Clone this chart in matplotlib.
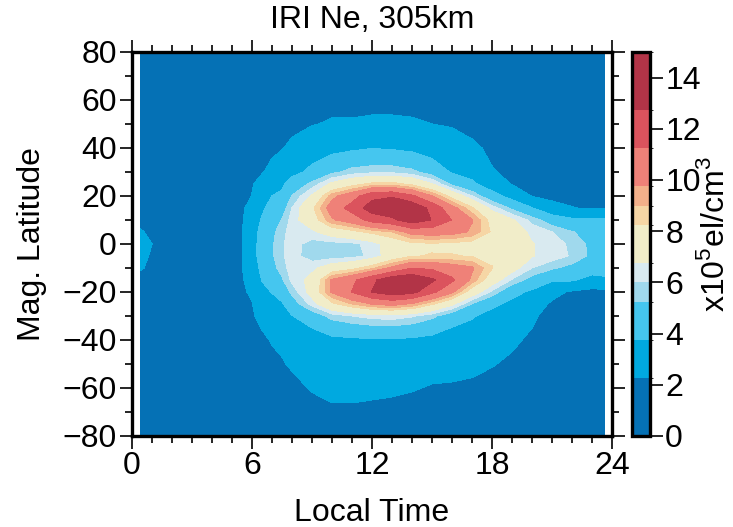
import numpy as np
import matplotlib
matplotlib.use('Agg')
import matplotlib.pyplot as plt
from matplotlib.colors import ListedColormap, BoundaryNorm

plt.rcParams['font.family'] = ['Liberation Sans', 'DejaVu Sans']
plt.rcParams['mathtext.fontset'] = 'custom'
plt.rcParams['mathtext.rm'] = 'Liberation Sans'

# local time of each column (hours)
lt = [0.45, 2, 4, 5, 5.5, 6, 6.5, 7, 7.5, 8, 9, 10, 11, 12,
      13, 14, 15, 16, 17, 18, 19, 20, 21, 22, 23, 23.6]
# magnetic latitude of each row (deg)
mlat = [80, 70, 60, 50, 40, 30, 25, 20, 15, 10, 5, 0,
        -5, -10, -15, -20, -25, -30, -40, -50, -60, -70, -80]

# Ne (x10^5 el/cm^3), one list per local time, lat 80 -> -80
ne_cols = [
    [1.2, 1.3, 1.4, 1.5, 1.6, 1.7, 1.8, 1.9, 2.0, 2.1, 2.3, 2.5, 2.4, 2.3, 2.1, 1.9, 1.8, 1.7, 1.6, 1.5, 1.4, 1.3, 1.2],
    [1.1, 1.2, 1.3, 1.4, 1.5, 1.6, 1.6, 1.7, 1.7, 1.8, 1.8, 1.8, 1.8, 1.8, 1.7, 1.7, 1.6, 1.6, 1.5, 1.4, 1.3, 1.2, 1.1],
    [1.0, 1.1, 1.2, 1.3, 1.4, 1.5, 1.5, 1.5, 1.6, 1.6, 1.6, 1.6, 1.6, 1.6, 1.6, 1.5, 1.5, 1.5, 1.4, 1.3, 1.2, 1.1, 1.0],
    [1.0, 1.1, 1.2, 1.3, 1.4, 1.5, 1.6, 1.6, 1.7, 1.7, 1.8, 1.8, 1.8, 1.8, 1.7, 1.7, 1.6, 1.6, 1.5, 1.4, 1.2, 1.1, 1.0],
    [1.1, 1.2, 1.3, 1.4, 1.6, 1.8, 1.9, 2.0, 2.1, 2.15, 2.2, 2.22, 2.22, 2.2, 2.15, 2.1, 2.0, 1.9, 1.7, 1.5, 1.3, 1.2, 1.1],
    [1.2, 1.3, 1.5, 1.7, 2.0, 2.15, 2.2, 2.27, 2.6, 2.9, 3.1, 3.2, 3.2, 3.0, 2.7, 2.4, 2.2, 2.1, 1.9, 1.6, 1.4, 1.2, 1.1],
    [1.3, 1.5, 1.7, 1.9, 2.05, 2.2, 2.5, 3.0, 3.5, 3.9, 4.2, 4.3, 4.3, 4.1, 3.8, 3.4, 3.0, 2.6, 2.0, 1.7, 1.4, 1.3, 1.2],
    [1.4, 1.6, 1.8, 2.0, 2.1, 2.45, 3.1, 3.75, 4.3, 4.7, 5.0, 5.1, 5.1, 4.9, 4.5, 3.8, 3.3, 2.9, 2.35, 1.9, 1.5, 1.3, 1.2],
    [1.5, 1.7, 1.9, 1.95, 2.2, 2.8, 3.5, 4.0, 4.7, 5.3, 5.7, 5.9, 5.9, 5.6, 5.1, 4.4, 3.6, 3.2, 2.5, 2.15, 1.7, 1.4, 1.2],
    [1.6, 1.8, 2.0, 2.0, 2.45, 3.3, 4.4, 5.3, 6.0, 6.3, 6.4, 6.3, 6.3, 6.4, 6.2, 5.5, 4.6, 3.7, 2.7, 2.4, 1.9, 1.5, 1.3],
    [1.7, 1.9, 2.1, 2.2, 3.0, 4.1, 5.5, 6.9, 8.0, 7.6, 6.5, 5.7, 5.6, 6.5, 7.1, 7.2, 6.3, 4.5, 3.0, 2.6, 2.35, 1.8, 1.4],
    [1.8, 1.9, 1.95, 2.35, 3.3, 5.0, 7.0, 9.4, 10.4, 9.6, 7.4, 5.7, 5.6, 7.4, 9.9, 9.9, 8.0, 5.6, 3.4, 2.7, 2.5, 2.1, 1.6],
    [1.9, 1.95, 1.95, 2.35, 3.5, 5.6, 7.8, 10.6, 11.8, 10.4, 7.9, 5.8, 5.7, 7.9, 10.9, 11.3, 9.0, 6.0, 3.5, 2.8, 2.5, 2.1, 1.6],
    [1.9, 2.0, 2.0, 2.4, 3.7, 5.8, 8.5, 12.3, 13.5, 11.8, 8.5, 6.3, 6.2, 8.8, 12.4, 12.8, 9.8, 6.3, 3.6, 2.8, 2.4, 2.1, 1.6],
    [1.9, 2.0, 2.0, 2.4, 3.6, 5.8, 8.6, 12.6, 14.0, 12.4, 9.0, 7.4, 7.4, 10.0, 13.8, 13.6, 10.2, 6.4, 3.6, 2.7, 2.4, 2.0, 1.6],
    [1.9, 2.0, 2.0, 2.35, 3.4, 5.5, 8.0, 11.5, 13.9, 13.6, 10.2, 8.0, 8.2, 11.2, 14.1, 13.2, 9.6, 6.1, 3.5, 2.6, 2.3, 2.0, 1.6],
    [1.8, 1.9, 2.0, 2.25, 3.0, 4.7, 6.8, 9.8, 12.3, 12.7, 10.4, 8.1, 8.3, 11.0, 13.0, 11.6, 8.4, 5.5, 3.3, 2.5, 2.2, 1.9, 1.6],
    [1.8, 1.9, 1.95, 2.15, 2.8, 3.6, 5.0, 7.8, 10.2, 11.2, 10.2, 8.0, 8.3, 10.4, 11.5, 10.0, 7.0, 4.5, 2.9, 2.4, 2.2, 1.8, 1.5],
    [1.7, 1.8, 1.9, 2.0, 2.4, 3.3, 4.0, 6.0, 8.4, 9.8, 9.6, 7.8, 8.2, 9.9, 9.5, 7.5, 5.2, 3.9, 2.8, 2.45, 2.1, 1.7, 1.5],
    [1.6, 1.7, 1.8, 1.9, 2.1, 2.3, 3.0, 4.3, 6.4, 7.8, 8.1, 7.5, 8.0, 8.3, 7.4, 5.8, 4.1, 3.2, 2.5, 2.3, 1.95, 1.6, 1.4],
    [1.5, 1.6, 1.7, 1.8, 1.9, 2.1, 2.2, 3.2, 5.0, 6.9, 7.4, 7.3, 7.6, 7.2, 5.9, 4.2, 3.4, 2.9, 2.4, 2.1, 1.8, 1.6, 1.4],
    [1.4, 1.5, 1.6, 1.7, 1.8, 1.9, 2.0, 2.2, 3.8, 5.7, 6.5, 6.8, 6.8, 6.0, 4.8, 3.5, 2.8, 2.4, 2.1, 1.9, 1.7, 1.5, 1.4],
    [1.3, 1.4, 1.5, 1.6, 1.7, 1.8, 1.9, 2.0, 2.6, 4.6, 6.0, 6.4, 6.4, 5.4, 3.9, 2.6, 2.1, 1.9, 1.8, 1.7, 1.6, 1.4, 1.3],
    [1.3, 1.4, 1.5, 1.5, 1.6, 1.7, 1.8, 1.9, 2.3, 4.0, 5.3, 5.8, 5.9, 4.9, 3.9, 2.1, 1.8, 1.7, 1.6, 1.5, 1.5, 1.4, 1.3],
    [1.3, 1.3, 1.4, 1.4, 1.5, 1.6, 1.7, 1.8, 2.1, 3.9, 4.8, 5.0, 5.0, 4.5, 3.2, 1.9, 1.7, 1.6, 1.5, 1.5, 1.4, 1.3, 1.3],
    [1.3, 1.3, 1.3, 1.4, 1.4, 1.5, 1.6, 1.7, 2.2, 3.9, 4.5, 4.6, 4.6, 4.3, 3.5, 1.9, 1.7, 1.6, 1.5, 1.4, 1.4, 1.3, 1.3],
]

# contour levels and fill colours
levels = [0, 2.25, 3.75, 5.25, 6, 6.75, 8.25, 9, 9.75, 11.25, 12.75, 15]
colors = ['#0571b5', '#00a9e0', '#45c6ef', '#a0d9ed', '#d9eaf0', '#f1edc9',
          '#f6d6a5', '#f3b08a', '#ef8178', '#db535d', '#b23447']
cb_ticks = [0, 2, 4, 6, 8, 10, 12, 14]

Z = np.array(ne_cols).T
fs = 23

fig = plt.figure(figsize=(7.33, 5.27), dpi=100)
ax = fig.add_axes([0.180, 0.1727, 0.655, 0.7287])
cax = fig.add_axes([0.862, 0.1727, 0.0246, 0.7287])

cmap = ListedColormap(colors)
norm = BoundaryNorm(levels, cmap.N)
cf = ax.contourf(lt, mlat, Z, levels=levels, cmap=cmap, norm=norm, antialiased=False)

ax.set_xlim(0, 24)
ax.set_ylim(-80, 80)
ax.set_xticks(np.arange(0, 25, 6))
ax.set_xticks(np.arange(0, 25, 1), minor=True)
ax.set_yticks(np.arange(-80, 81, 20))
ax.set_yticks(np.arange(-80, 81, 10), minor=True)
ax.tick_params(which='both', direction='out', top=True, right=True, width=1.2,
               labelsize=fs, pad=2)
ax.tick_params(which='major', length=9)
ax.tick_params(which='minor', length=5)
for s in ax.spines.values():
    s.set_linewidth(2.4)

ax.set_title('IRI Ne, 305km', fontsize=fs, pad=17)
ax.set_xlabel('Local Time', fontsize=fs, labelpad=12)
ax.set_ylabel('Mag. Latitude', fontsize=fs, labelpad=11)

cb = fig.colorbar(cf, cax=cax, ticks=cb_ticks, spacing='proportional')
cb.outline.set_linewidth(2.4)
cax.tick_params(direction='out', length=9, width=1.2, labelsize=fs, pad=2)
fig.text(731 / 733, 0.556, 'x10$^5$el/cm$^3$', rotation=90, ha='right', va='center',
         fontsize=fs)

fig.savefig('out.png', dpi=100)
